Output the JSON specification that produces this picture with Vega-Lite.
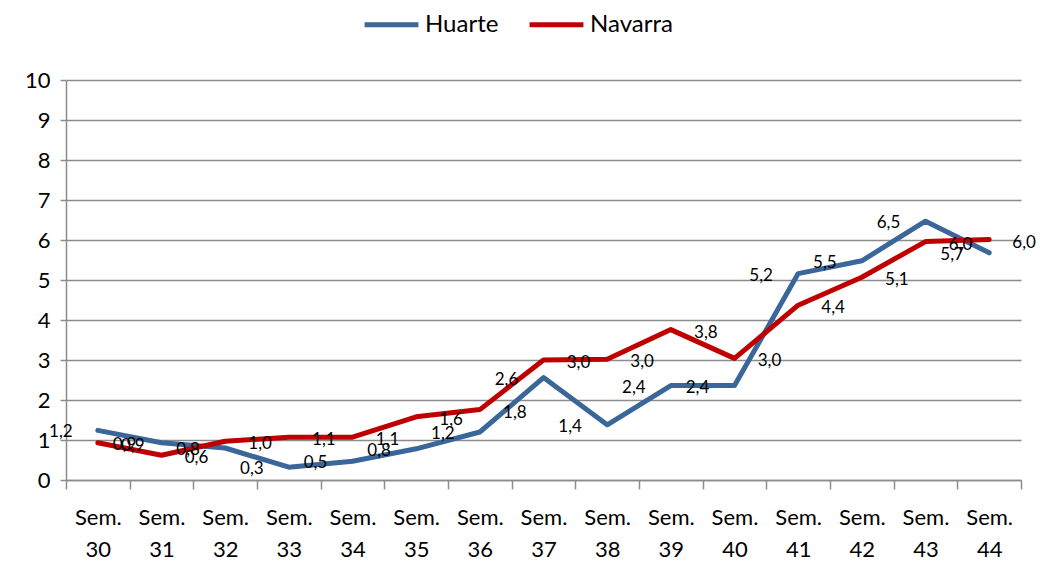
{
  "$schema": "https://vega.github.io/schema/vega-lite/v6.json",
  "autosize": "none",
  "width": 955,
  "height": 400,
  "padding": {"left": 66, "top": 80, "right": 19, "bottom": 85},
  "config": {
    "view": {"stroke": null},
    "font": "Lato",
    "locale": {"number": {"decimal": ",", "thousands": ".", "grouping": [3], "currency": ["", " €"]}}
  },
  "data": {
    "values": [
      {"sem": "Sem. 30", "serie": "Huarte", "valor": 1.24},
      {"sem": "Sem. 31", "serie": "Huarte", "valor": 0.93},
      {"sem": "Sem. 32", "serie": "Huarte", "valor": 0.8},
      {"sem": "Sem. 33", "serie": "Huarte", "valor": 0.32},
      {"sem": "Sem. 34", "serie": "Huarte", "valor": 0.47},
      {"sem": "Sem. 35", "serie": "Huarte", "valor": 0.78},
      {"sem": "Sem. 36", "serie": "Huarte", "valor": 1.2},
      {"sem": "Sem. 37", "serie": "Huarte", "valor": 2.56},
      {"sem": "Sem. 38", "serie": "Huarte", "valor": 1.38},
      {"sem": "Sem. 39", "serie": "Huarte", "valor": 2.36},
      {"sem": "Sem. 40", "serie": "Huarte", "valor": 2.36},
      {"sem": "Sem. 41", "serie": "Huarte", "valor": 5.16},
      {"sem": "Sem. 42", "serie": "Huarte", "valor": 5.48},
      {"sem": "Sem. 43", "serie": "Huarte", "valor": 6.47},
      {"sem": "Sem. 44", "serie": "Huarte", "valor": 5.68},
      {"sem": "Sem. 30", "serie": "Navarra", "valor": 0.93},
      {"sem": "Sem. 31", "serie": "Navarra", "valor": 0.62},
      {"sem": "Sem. 32", "serie": "Navarra", "valor": 0.97},
      {"sem": "Sem. 33", "serie": "Navarra", "valor": 1.07},
      {"sem": "Sem. 34", "serie": "Navarra", "valor": 1.07},
      {"sem": "Sem. 35", "serie": "Navarra", "valor": 1.58},
      {"sem": "Sem. 36", "serie": "Navarra", "valor": 1.76},
      {"sem": "Sem. 37", "serie": "Navarra", "valor": 3.0},
      {"sem": "Sem. 38", "serie": "Navarra", "valor": 3.02},
      {"sem": "Sem. 39", "serie": "Navarra", "valor": 3.76},
      {"sem": "Sem. 40", "serie": "Navarra", "valor": 3.04},
      {"sem": "Sem. 41", "serie": "Navarra", "valor": 4.37},
      {"sem": "Sem. 42", "serie": "Navarra", "valor": 5.07},
      {"sem": "Sem. 43", "serie": "Navarra", "valor": 5.96},
      {"sem": "Sem. 44", "serie": "Navarra", "valor": 6.01}
    ]
  },
  "encoding": {
    "x": {
      "field": "sem",
      "type": "ordinal",
      "sort": null,
      "bandPosition": 0.5,
      "scale": {"type": "band", "paddingInner": 0, "paddingOuter": 0},
      "axis": {
        "title": null,
        "labelAngle": 0,
        "labelExpr": "isString(datum.value) ? split(datum.value, ' ') : ''",
        "labelFontSize": 22,
        "labelColor": "#000000",
        "labelLineHeight": 32,
        "labelPadding": 18,
        "labelBaseline": "top",
        "tickBand": "extent",
        "tickSize": 9,
        "tickColor": "#8c8c8c",
        "tickWidth": 1.5,
        "domainColor": "#8c8c8c",
        "domainWidth": 1.5,
        "grid": false
      }
    },
    "y": {
      "field": "valor",
      "type": "quantitative",
      "scale": {"domain": [0, 10], "nice": false},
      "axis": {
        "title": null,
        "values": [0, 1, 2, 3, 4, 5, 6, 7, 8, 9, 10],
        "labelFontSize": 22,
        "labelColor": "#000000",
        "labelPadding": 10,
        "tickSize": 6,
        "tickColor": "#8c8c8c",
        "tickWidth": 1.5,
        "domainColor": "#8c8c8c",
        "domainWidth": 1.5,
        "gridColor": "#8c8c8c",
        "gridWidth": 1.5
      }
    }
  },
  "layer": [
    {
      "mark": {"type": "line", "strokeWidth": 5, "strokeJoin": "round", "strokeCap": "round"},
      "encoding": {
        "color": {
          "field": "serie",
          "type": "nominal",
          "scale": {"domain": ["Huarte", "Navarra"], "range": ["#3b6699", "#c00000"]},
          "legend": {
            "title": null,
            "orient": "none",
            "direction": "horizontal",
            "legendX": 296,
            "legendY": -85,
            "symbolType": "stroke",
            "symbolSize": 2900,
            "symbolStrokeWidth": 5,
            "labelFontSize": 24,
            "labelColor": "#000000",
            "columnPadding": 20,
            "labelOffset": 4
          }
        }
      }
    },
    {
      "transform": [{"filter": "datum.serie == 'Huarte'"}],
      "mark": {"type": "text", "fontSize": 17, "dx": -37, "dy": 2, "color": "#000000"},
      "encoding": {"text": {"field": "valor", "type": "quantitative", "format": ".1f"}}
    },
    {
      "transform": [{"filter": "datum.serie == 'Navarra'"}],
      "mark": {"type": "text", "fontSize": 17, "dx": 35, "dy": 3, "color": "#000000"},
      "encoding": {"text": {"field": "valor", "type": "quantitative", "format": ".1f"}}
    }
  ]
}
